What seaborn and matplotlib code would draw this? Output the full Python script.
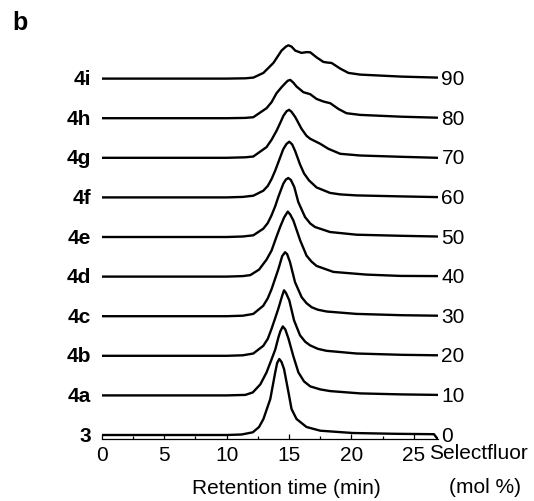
import pandas as pd
import matplotlib
matplotlib.use('Agg')
import matplotlib.pyplot as plt
import seaborn as sns

# sample labels (bottom to top) and Selectfluor loading
samples = ['3', '4a', '4b', '4c', '4d', '4e', '4f', '4g', '4h', '4i']
selectfluor = [0, 10, 20, 30, 40, 50, 60, 70, 80, 90]

# GPC traces: retention time (min) / signal (a.u.)
t_3 = [0, 10, 11.2, 12.1, 12.6, 12.95, 13.5, 13.9, 14.05, 14.22, 14.4, 14.6, 14.95, 15.2, 15.6, 16.4, 17.5, 20.1, 23.5, 26.6, 26.9]
s_3 = [0, 0, 0.5, 2.7, 8, 16, 36, 63, 72, 76, 73, 66, 43, 26, 16, 8, 4.3, 2, 1.2, 0.8, -4]

t_4a = [0, 10, 11.5, 12.1, 12.7, 13.2, 13.6, 13.9, 14.15, 14.3, 14.5, 14.7, 14.95, 15.35, 15.75, 16.2, 16.7, 17.5, 18.3, 20.7, 24, 26.9]
s_4a = [0, 0, 0.5, 3, 11, 23, 36, 46, 58, 64, 69, 66, 57, 39, 23, 14, 9, 6, 4.3, 2, 1, 0.5]

t_4b = [0, 10, 11.3, 12.14, 12.94, 13.3, 13.6, 13.9, 14.14, 14.45, 14.6, 14.75, 15.02, 15.4, 15.88, 16.3, 16.68, 17.3, 18.0, 20.4, 24, 26.9]
s_4b = [0, 0, 0.5, 2.3, 10, 17, 27, 38, 47, 60, 65.5, 63, 55.5, 35.5, 20.5, 14, 10.5, 7, 5, 2.3, 1, 0.5]

t_4c = [0, 10, 11.3, 12.14, 12.94, 13.3, 13.6, 13.9, 14.17, 14.45, 14.68, 14.85, 15.08, 15.48, 16.01, 16.4, 16.81, 17.3, 18.01, 20.4, 24, 26.9]
s_4c = [0, 0, 0.5, 2.3, 10.5, 18, 27, 38, 48, 60, 64, 62, 54, 34, 19, 13, 9, 6.5, 4.7, 2.3, 1, 0.5]

t_4d = [0, 10, 11.3, 11.9, 12.6, 13.2, 13.6, 14.0, 14.3, 14.6, 14.9, 15.1, 15.35, 15.9, 16.4, 16.8, 17.2, 18.55, 21.2, 23.9, 26.9]
s_4d = [0, 0, 0.5, 1.5, 7, 17, 26, 40, 50, 59, 65, 62, 56, 36, 21, 15, 10.7, 4.7, 2, 0.7, 0.5]

t_4e = [0, 10, 11.3, 12.14, 12.94, 13.3, 13.6, 13.9, 14.14, 14.54, 14.75, 14.94, 15.15, 15.42, 15.74, 16.28, 16.7, 17.08, 18.28, 20.4, 24, 26.9]
s_4e = [0, 0, 0.5, 1.7, 8.3, 14, 21.7, 31, 40, 53.3, 57.5, 59, 57, 50, 35, 20, 13.5, 10, 5, 2.3, 1.2, 0.5]

t_4f = [0, 10, 11.3, 12.14, 12.94, 13.3, 13.6, 13.9, 14.14, 14.54, 14.8, 15.02, 15.25, 15.48, 15.88, 16.2, 16.6, 17.2, 18.28, 19.1, 20.4, 24, 26.9]
s_4f = [0, 0, 0.5, 1.7, 6.7, 11.5, 18.3, 27, 35, 48.3, 53.5, 55.7, 53, 46.7, 33, 24, 17, 10, 4.5, 3, 2, 1, 0.3]

t_4g = [0, 10, 11.5, 12.14, 13.2, 13.6, 14.0, 14.3, 14.55, 14.8, 15.0, 15.2, 15.5, 16.0, 16.4, 16.7, 17.1, 17.5, 18.15, 19.1, 20.7, 24, 26.9]
s_4g = [0, 0, 0.5, 1.3, 10.7, 18, 27, 35, 42, 46.5, 48, 46, 40.7, 29, 22, 19, 16.5, 14, 9, 4, 2.3, 1, 0]

t_4h = [0, 10, 11.5, 12.14, 13.2, 13.6, 14.0, 14.4, 14.7, 14.9, 15.1, 15.35, 15.6, 16.15, 16.7, 17.2, 17.75, 18.3, 18.95, 19.6, 20.7, 24, 26.9]
s_4h = [0, 0, 0.3, 1, 10, 16, 25, 31, 35, 37.5, 38.3, 35.5, 31.7, 26, 24, 19.3, 16.7, 15, 9.3, 5, 3.3, 1.5, 0.5]

t_4i = [0, 10, 11.5, 12.14, 12.95, 13.75, 14.4, 14.75, 14.95, 15.2, 15.5, 16.0, 16.4, 16.7, 17.2, 17.75, 18.1, 18.4, 19.1, 19.75, 20.7, 24, 26.9]
s_4i = [0, 0, 0.3, 1, 5.7, 15.7, 28, 32, 33.3, 32, 28, 25.7, 26.5, 26.3, 21.3, 16.7, 16, 15.7, 10, 5.7, 4, 2, 1]

times = [t_3, t_4a, t_4b, t_4c, t_4d, t_4e, t_4f, t_4g, t_4h, t_4i]
signals = [s_3, s_4a, s_4b, s_4c, s_4d, s_4e, s_4f, s_4g, s_4h, s_4i]

spacing = 39.6  # vertical offset between stacked traces

rows = []
for i, (name, t, s) in enumerate(zip(samples, times, signals)):
    for a, b in zip(t, s):
        rows.append({'sample': name, 'time': a, 'signal': b + i * spacing})
df = pd.DataFrame(rows)

sns.set_style('white')
plt.rcParams['font.family'] = ['Liberation Sans', 'DejaVu Sans']
plt.rcParams['text.color'] = 'black'
plt.rcParams['axes.labelcolor'] = 'black'
plt.rcParams['xtick.color'] = 'black'

fig = plt.figure(figsize=(5.34, 5.02), dpi=100)
ax = fig.add_axes([0.1904, 0.1235, 0.6292, 0.7968])

for name in samples:
    sub = df[df['sample'] == name]
    sns.lineplot(data=sub, x='time', y='signal', sort=False, estimator=None,
                 color='black', linewidth=1.7, ax=ax)
for line in ax.get_lines():
    line.set_solid_joinstyle('round')
    line.set_solid_capstyle('round')

# labels on both sides of each trace
for i, (name, pct) in enumerate(zip(samples, selectfluor)):
    ax.text(-0.85, i * spacing, name, ha='right', va='center', fontsize=15,
            fontweight='bold', color='black', clip_on=False)
    ax.text(27.2, i * spacing, str(pct), ha='left', va='center', fontsize=15,
            color='black', clip_on=False)

ax.set_xlim(0, 26.9)
ax.set_ylim(-4, 396)
ax.set_xticks([0, 5, 10, 15, 20, 25])
ax.set_xticks([2.5, 7.5, 12.5, 17.5, 22.5], minor=True)
ax.set_yticks([])
ax.tick_params(axis='x', which='major', direction='in', length=3.5, width=0.9,
               pad=4, labelsize=15, bottom=True, colors='black')
ax.tick_params(axis='x', which='minor', direction='in', length=2, width=0.9,
               bottom=True, colors='black')
for side in ['top', 'right', 'left']:
    ax.spines[side].set_visible(False)
ax.spines['bottom'].set_linewidth(0.9)
ax.spines['bottom'].set_color('black')

ax.set_xlabel('Retention time (min)', fontsize=15, va='center', color='black')
ax.xaxis.set_label_coords(0.55, -0.12)
ax.set_ylabel('')

fig.text(429 / 534, 1 - 454 / 502, 'Selectfluor', ha='left', va='center', fontsize=15)
fig.text(485 / 534, 1 - 488 / 502, '(mol %)', ha='center', va='center', fontsize=15)
fig.text(12 / 534, 1 - 11 / 502, 'b', ha='left', va='top', fontsize=18, fontweight='bold')

fig.savefig('out.png', dpi=100)
